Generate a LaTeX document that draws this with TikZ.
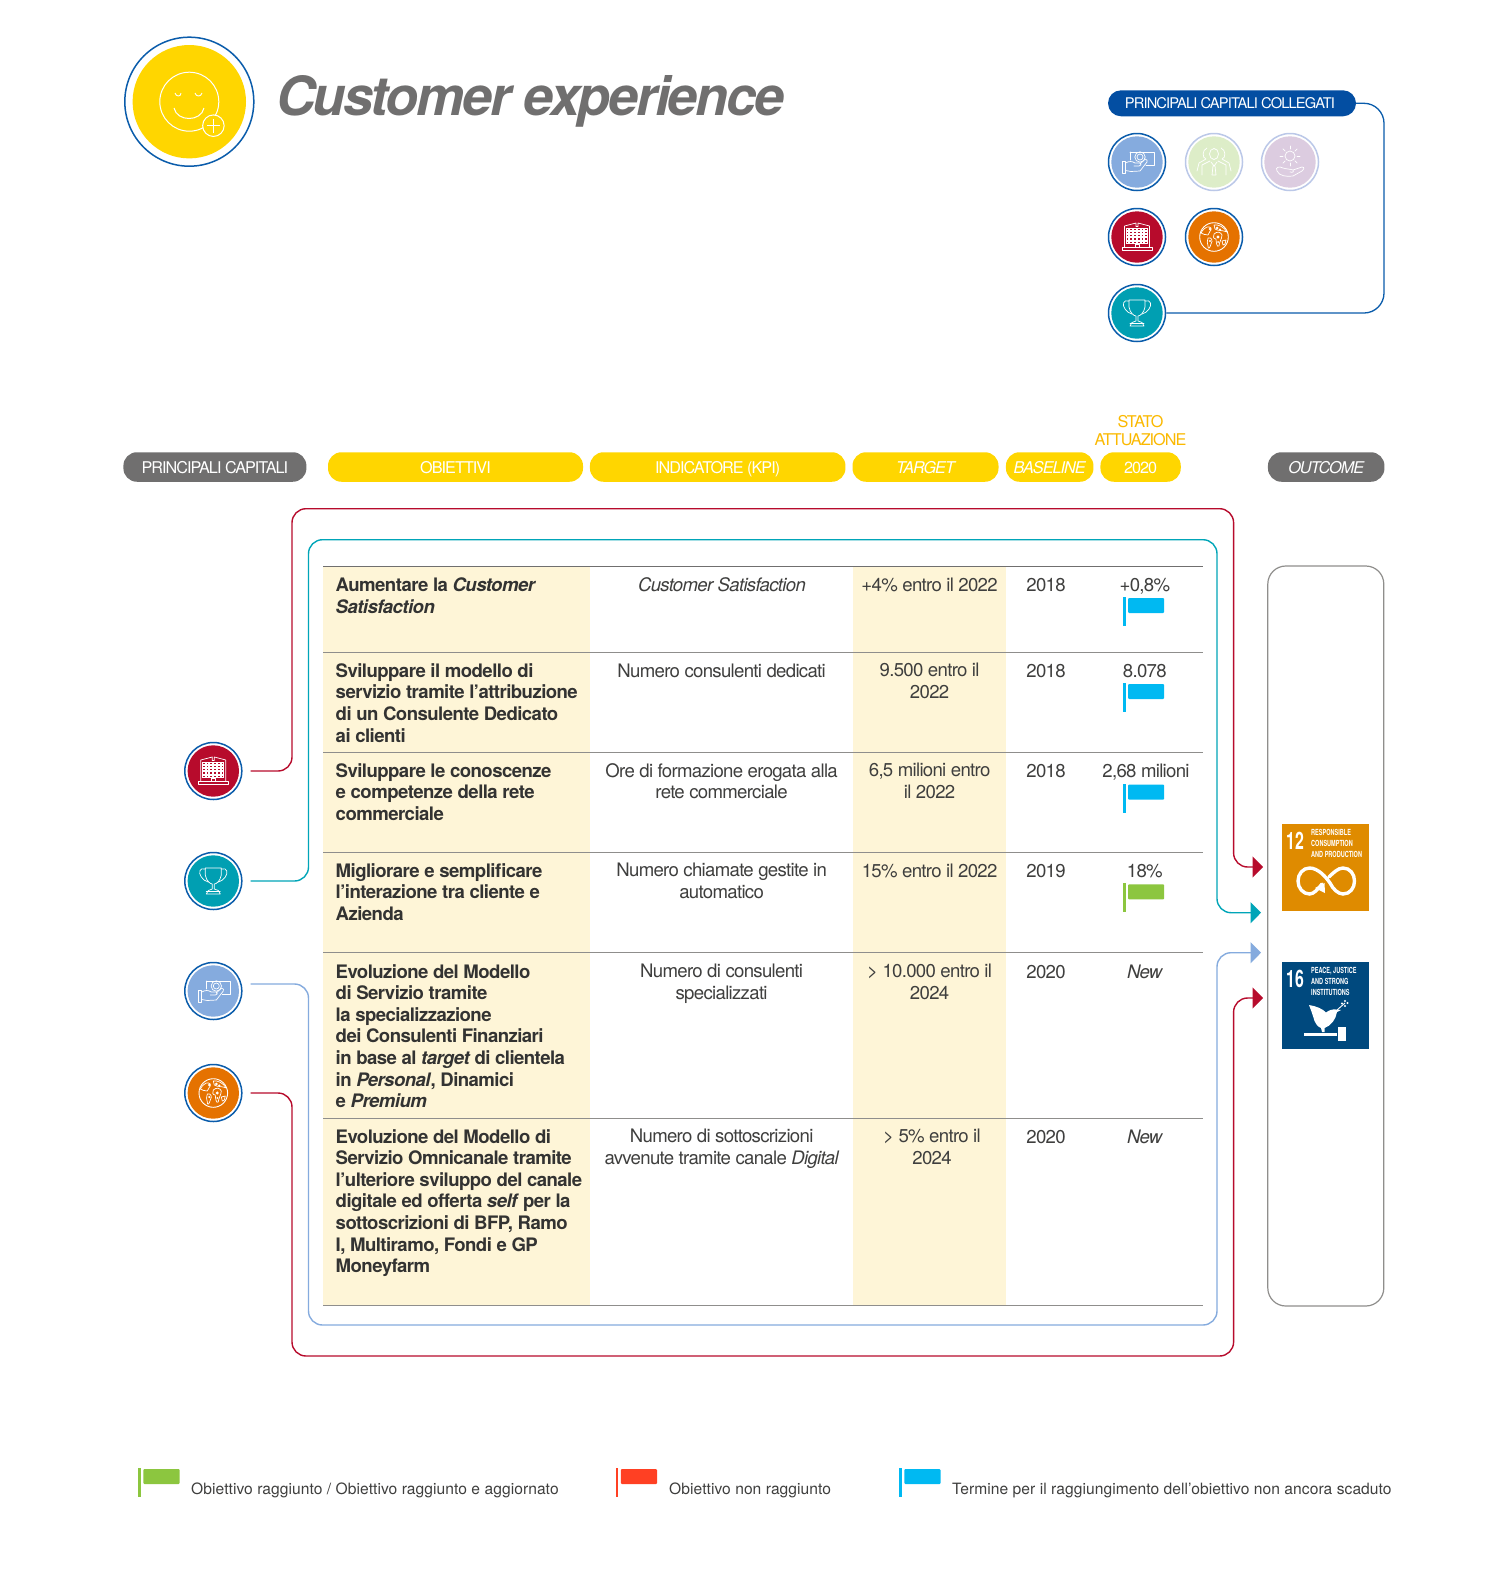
\documentclass[tikz,border=0pt]{standalone}
\usepackage{fontspec}
\usetikzlibrary{arrows.meta,calc}
\setmainfont[LetterSpace=-3.7,BoldFeatures={LetterSpace=-3},BoldItalicFeatures={LetterSpace=-3}]{TeX Gyre Heros}
\newfontfamily\legendf[LetterSpace=0.4]{TeX Gyre Heros}
\newfontfamily\titlef[LetterSpace=-4.2]{TeX Gyre Heros}
\newfontfamily\pillf[LetterSpace=-6]{TeX Gyre Heros}
\newfontfamily\sdgf[FakeStretch=0.66]{TeX Gyre Heros}
\definecolor{cyel}{HTML}{FFD600}
\definecolor{cgrey}{HTML}{706F6F}
\definecolor{ccream}{HTML}{FEF5D7}
\definecolor{cred}{HTML}{B70B2C}
\definecolor{cteal}{HTML}{009FB2}
\definecolor{ctealine}{HTML}{00A5B8}
\definecolor{clblue}{HTML}{85ABDE}
\definecolor{corange}{HTML}{E57200}
\definecolor{cdblue}{HTML}{0A5CAB}
\definecolor{cpill}{HTML}{034EA2}
\definecolor{cfaint}{HTML}{BBC8E8}
\definecolor{cgreenl}{HTML}{DDEDC8}
\definecolor{cpurl}{HTML}{DCCCE0}
\definecolor{ctext}{HTML}{3F3F3E}
\definecolor{cbold}{HTML}{333332}
\definecolor{cstato}{HTML}{FBB900}
\definecolor{fblue}{HTML}{00B9F2}
\definecolor{fgreen}{HTML}{8CC63F}
\definecolor{fred}{HTML}{FF4023}
\definecolor{sdgo}{HTML}{DF8B00}
\definecolor{sdgb}{HTML}{00497E}
\definecolor{crule}{HTML}{8F8E8C}
\tikzset{
  pillbase/.style={rounded corners=13.5pt,minimum height=29.5pt,inner sep=0pt,text=white,text height=13.5pt,text depth=0pt,font=\pillf\fontsize{16.2}{18}\selectfont},
  ypill/.style={pillbase,fill=cyel},
  gpill/.style={pillbase,fill=cgrey},
  objcell/.style={anchor=north west,inner sep=0pt,align=left,text=cbold,font=\fontsize{18.6}{21.6}\selectfont\bfseries,execute at begin node={\rule{0pt}{14pt}}},
  valcell/.style={anchor=north,inner sep=0pt,align=center,text=ctext,font=\fontsize{18.6}{21.6}\selectfont,execute at begin node={\rule{0pt}{14pt}}},
  ringnode/.style={circle,draw=#1,line width=1.5pt,fill=white,minimum size=57pt,inner sep=0pt},
  iconline/.style={draw=white,line width=0.7pt,line join=round,line cap=round},
  conn/.style={line width=1.4pt,rounded corners=14pt},
  arr/.style={-{Triangle[length=10.5pt,width=21pt]}},
  rulel/.style={draw=crule,line width=1pt},
  legtext/.style={anchor=base west,inner sep=0pt,text=ctext,font=\legendf\fontsize{15.6}{18}\selectfont},
  sdgtext/.style={anchor=north west,inner sep=0pt,text=white,align=left,font=\sdgf\fontsize{8.4}{11}\selectfont\bfseries},
  sdgnum/.style={inner sep=0pt,text=white,font=\sdgf\fontsize{24}{24}\selectfont\bfseries},
  moneyicon/.pic={
    \draw[iconline] (-7,-10) -- (17,-10) -- (17,3) -- (9,3) (-7,-10) -- (-7,-2);
    \draw[iconline] (3,-5) circle (5.2) (3,-5) circle (3);
    \draw[iconline] (-15,-1) -- (-11.5,-1) -- (-11.5,11) -- (-15,11) -- cycle;
    \draw[iconline] (-11.5,1) .. controls (-8,-1) and (-5,-1) .. (-2,1) -- (3,1) .. controls (5,2) and (4,4) .. (2,4) -- (-3,4) (3,2) -- (8,-3) .. controls (10,-3) and (11,-1) .. (10,0) -- (3,9) -- (-6,9.5) -- (-11.5,8.5);
  },
  peopleicon/.pic={
    \draw[iconline] (0,-8) ellipse (4.5 and 5.5);
    \draw[iconline] (-4,-1) -- (-12,3) -- (-12,13) (4,-1) -- (12,3) -- (12,13) (-3,0) -- (0,4) -- (3,0) (-2,13) -- (-1,4) (2,13) -- (1,4) (-2,13) -- (2,13);
    \draw[iconline] (-7,-14) .. controls (-12,-12) and (-12,-4) .. (-8,-3) -- (-15,1) -- (-17,9) (7,-14) .. controls (12,-12) and (12,-4) .. (8,-3) -- (15,1) -- (17,9);
  },
  sunicon/.pic={
    \draw[iconline] (0,-6) circle (5);
    \foreach \a in {0,45,...,315} {\draw[iconline] ($(0,-6)+(\a:7)$) -- ($(0,-6)+(\a:10)$);}
    \draw[iconline] (-13,9) .. controls (-15,5) and (-11,4) .. (-7,6) .. controls (-4,7) and (0,7) .. (3,8) .. controls (5,9) and (3,11) .. (0,10) (3,8) -- (12,5) .. controls (15,5) and (14,8) .. (12,9) -- (3,14) .. controls (-3,15) and (-11,14) .. (-13,9);
  },
  buildicon/.pic={
    \draw[iconline] (-15,10) -- (15,10) -- (15,13.5) -- (-15,13.5) -- cycle;
    \draw[iconline] (-12.5,10) -- (-12.5,-11) -- (-1,-14) -- (-1,-10.5) -- (1,-10.5) -- (1,-14) -- (12.5,-11) -- (12.5,10);
    \foreach \x in {-11,-7.3,-3.6,0.1,3.8,7.5} {\foreach \y in {-9,-5.8,-2.6,0.6,3.8} {\draw[draw=white,line width=0.55pt] (\x,\y) rectangle ++(2.7,2.3);}}
    \draw[iconline] (-2,10) -- (-2,7) -- (2,7) -- (2,10);
  },
  globeicon/.pic={
    \draw[iconline,line width=0.9pt] (0,0) circle (14.3);
    \draw[iconline] (-13,-4) .. controls (-9,-11) and (-5,-11) .. (-3,-9) .. controls (-2,-6) and (-6,-5) .. (-6,-2) .. controls (-9,-2) and (-11,-3) .. (-13,-4);
    \draw[iconline] (-6,1) .. controls (-2,0) and (-1,4) .. (-3,7) .. controls (-4,11) and (-6,13) .. (-6,9) .. controls (-6,6) and (-8,4) .. (-6,1);
    \draw[iconline] (0,-3) .. controls (3,-6) and (7,-5) .. (8,-2) .. controls (8,2) and (5,5) .. (5,9) .. controls (3,11) and (2,5) .. (2,2) .. controls (-1,2) and (-1,-1) .. (0,-3);
    \draw[iconline] (0,-12) .. controls (4,-13) and (10,-10) .. (13,-5) .. controls (9,-7) and (3,-6) .. (1,-8) -- cycle;
    \draw[iconline] (8,4) -- (12,3) -- (11,7) -- (9,8) -- cycle;
    \fill[white] (-4,-8) circle (1.4) (3,-9) circle (1.5) (6,-7.5) circle (1.2) (4,0) circle (1.6) (4,5) circle (1) (-4,4) circle (1.2);
  },
  cupicon/.pic={
    \draw[iconline] (-8,-13) -- (8,-13) -- (8,-6) .. controls (7,0) and (3,3) .. (1,3) -- (1,8) -- (5,9.5) -- (7,13) -- (-7,13) -- (-5,9.5) -- (-1,8) -- (-1,3) .. controls (-3,3) and (-7,0) .. (-8,-6) -- cycle;
    \draw[iconline] (-8,-12) .. controls (-14,-14) and (-15,-8) .. (-12,-4) .. controls (-10,-1) and (-8,0) .. (-5,1);
    \draw[iconline] (8,-12) .. controls (14,-14) and (15,-8) .. (12,-4) .. controls (10,-1) and (8,0) .. (5,1);
    \draw[iconline] (-7,10) -- (7,10);
  },
}
\newcommand{\CapNode}[6]{% name, x, y, ring, fill, icon
  \node[ringnode=#4] (#1) at (#2,#3) {};
  \fill[#5] (#1.center) circle (25.7);
  \pic at (#1.center) {#6};
}
\newcommand{\FlagMark}[4]{% name, x, y, colour
  \coordinate (#1) at (#2,#3);
  \fill[#4] ($(#1)+(-1.3,0)$) rectangle ($(#1)+(1.3,29)$);
  \fill[#4,rounded corners=1pt] ($(#1)+(3.8,1)$) rectangle ($(#1)+(40,16)$);
}
\begin{document}
\begin{tikzpicture}[x=1pt,y=-1pt]
\useasboundingbox (0,0) rectangle (1502,1590);
\fill[white] (0,0) rectangle (1502,1590);
% main icon
\node[circle,draw=cdblue,line width=1.5pt,fill=white,minimum size=129pt,inner sep=0pt] (mainicon) at (189.3,101.7) {};
\fill[cyel] (mainicon.center) circle (56.7);
\draw[white,line width=1pt] (mainicon.center) circle (29.5);
\draw[white,line width=1pt] (174,108) .. controls (177,122) and (201,122) .. (204,108);
\draw[white,line width=0.9pt] (175,93) .. controls (176,97) and (181,97) .. (181,93) (195,93) .. controls (196,97) and (201,97) .. (202,93);
\node[circle,draw=white,line width=1pt,fill=cyel,minimum size=21.5pt,inner sep=0pt] (plusicon) at (213.4,125.7) {};
\draw[white,line width=0.9pt] (206.5,125.7) -- (220.3,125.7) (213.4,119) -- (213.4,132.5);
\node[anchor=base west,inner sep=0pt,text=cgrey,font=\titlef\fontsize{54}{60}\selectfont\bfseries\itshape] (title) at (276,115) {Customer experience};
% top-right legend
\node[pillbase,fill=cpill,minimum width=248pt,minimum height=26pt,rounded corners=13pt,text height=10.7pt,font=\pillf\fontsize{14.7}{18}\selectfont] (pillcoll) at (1232,103.3) {\hspace*{-4pt}PRINCIPALI CAPITALI COLLEGATI};
\CapNode{topA}{1137}{162}{cdblue}{clblue}{moneyicon}
\CapNode{topB}{1214}{162}{cfaint}{cgreenl}{peopleicon}
\CapNode{topC}{1290}{162}{cfaint}{cpurl}{sunicon}
\CapNode{topD}{1137}{237}{cdblue}{cred}{buildicon}
\CapNode{topE}{1214}{237}{cdblue}{corange}{globeicon}
\CapNode{topF}{1137}{313}{cdblue}{cteal}{cupicon}
\coordinate (topR) at (1384,103.3);
\draw[cdblue,line width=1.3pt,rounded corners=20pt] (pillcoll.east) -- (topR) -- (topR |- topF.east) -- (topF.east);
% header pills
\node[gpill,minimum width=183pt] (hcap) at (214.9,467) {PRINCIPALI CAPITALI};
\node[ypill,minimum width=255pt] (hobj) at (455.5,467) {OBIETTIVI};
\node[ypill,minimum width=255.5pt] (hkpi) at (717.7,467) {INDICATORE (KPI)};
\node[ypill,minimum width=146pt] (htar) at (925.5,467) {\itshape TARGET};
\node[ypill,minimum width=87.5pt] (hbas) at (1049.7,467) {\itshape BASELINE};
\node[ypill,minimum width=80.3pt] (h2020) at (1140.6,467) {2020};
\node[gpill,minimum width=116.5pt] (hout) at (1326.2,467) {\itshape OUTCOME};
\node[anchor=south,inner sep=0pt,align=center,text=cstato,font=\pillf\fontsize{16.2}{18.2}\selectfont] (stato) at (1140.5,446) {STATO\\ATTUAZIONE};
% table fills
\fill[ccream] (323,566) rectangle (590.4,1306);
\fill[ccream] (852.6,566) rectangle (1005.6,1306);
% table rules
\foreach \y in {652.3,752.7,852.3,952.3,1118.3,1305.7} {\draw[rulel] (323,\y) -- (1202.5,\y);}
\draw[draw=cgrey,line width=1pt] (323,566) -- (1202.5,566);
% obj text
\node[objcell] (o1) at (335.5,577.7) {Aumentare la \textit{Customer}\\\textit{Satisfaction}};
\node[objcell] (o2) at (335.5,663.2) {Sviluppare il modello di\\servizio tramite l’attribuzione\\di un Consulente Dedicato\\ai clienti};
\node[objcell] (o3) at (335.5,763) {Sviluppare le conoscenze\\e competenze della rete\\commerciale};
\node[objcell] (o4) at (335.5,863) {Migliorare e semplificare\\l’interazione tra cliente e\\Azienda};
\node[objcell] (o5) at (335.5,964) {Evoluzione del Modello\\di Servizio tramite\\la specializzazione\\dei Consulenti Finanziari\\in base al \textit{target} di clientela\\in \textit{Personal}, Dinamici\\e \textit{Premium}};
\node[objcell] (o6) at (335.5,1129) {Evoluzione del Modello di\\Servizio Omnicanale tramite\\l’ulteriore sviluppo del canale\\digitale ed offerta \textit{self} per la\\sottoscrizioni di BFP, Ramo\\I, Multiramo, Fondi e GP\\Moneyfarm};
% KPI
\node[valcell] (k1) at (721.6,577.7) {\textit{Customer Satisfaction}};
\node[valcell] (k2) at (721.6,663.2) {Numero consulenti dedicati};
\node[valcell] (k3) at (721.6,763) {Ore di formazione erogata alla\\rete commerciale};
\node[valcell] (k4) at (721.6,863) {Numero chiamate gestite in\\automatico};
\node[valcell] (k5) at (721.6,964) {Numero di consulenti\\specializzati};
\node[valcell] (k6) at (721.6,1129) {Numero di sottoscrizioni\\avvenute tramite canale \textit{Digital}};
% target
\node[valcell] (t1) at (929.6,577.7) {+4\% entro il 2022};
\node[valcell] (t2) at (929.6,663.2) {9.500 entro il\\2022};
\node[valcell] (t3) at (929.6,763) {6,5 milioni entro\\il 2022};
\node[valcell] (t4) at (929.6,863) {15\% entro il 2022};
\node[valcell] (t5) at (929.6,964) {> 10.000 entro il\\2024};
\node[valcell] (t6) at (932,1129) {> 5\% entro il\\2024};
% baseline
\node[valcell] (b1) at (1046,577.7) {2018};
\node[valcell] (b2) at (1046,663.2) {2018};
\node[valcell] (b3) at (1046,763) {2018};
\node[valcell] (b4) at (1046,863) {2019};
\node[valcell] (b5) at (1046,964) {2020};
\node[valcell] (b6) at (1046,1129) {2020};
% status
\node[valcell] (s1) at (1144.8,577.7) {+0,8\%};
\node[valcell] (s2) at (1144.8,663.2) {8.078};
\node[valcell] (s3) at (1146,763) {2,68 milioni};
\node[valcell] (s4) at (1144.8,863) {18\%};
\node[valcell] (s5) at (1144.8,964) {\textit{New}};
\node[valcell] (s6) at (1144.8,1129) {\textit{New}};
\FlagMark{f1}{1124.2}{597}{fblue}
\FlagMark{f2}{1124.2}{683}{fblue}
\FlagMark{f3}{1124.2}{783.7}{fblue}
\FlagMark{f4}{1124.2}{883.3}{fgreen}
% outcome
\node[draw=crule,line width=1.2pt,rounded corners=18pt,minimum width=116pt,minimum height=740pt,inner sep=0pt] (outbox) at (1325.8,936) {};
\node[fill=sdgo,minimum size=87pt,inner sep=0pt] (sdgA) at (1325.7,867.2) {};
\node[fill=sdgb,minimum size=87pt,inner sep=0pt] (sdgB) at (1325.7,1005.5) {};
\node[sdgnum] (n12) at (1295,840.5) {12};
\node[sdgtext] (t12) at (1311,829.5) {RESPONSIBLE\\CONSUMPTION\\AND PRODUCTION};
\draw[white,line width=3.4pt,line cap=round] (1322,884) .. controls (1318,889) and (1314,894) .. (1309.5,894) .. controls (1303,894) and (1298,888) .. (1298,881) .. controls (1298,874) and (1303,868) .. (1309.5,868) .. controls (1318,868) and (1326,877) .. (1330,883) .. controls (1333,889) and (1338,894) .. (1343,894) .. controls (1350,894) and (1354.5,888) .. (1354.5,881) .. controls (1354.5,874) and (1350,868) .. (1343,868) .. controls (1338,868) and (1333,873) .. (1329,877);
\fill[white] (1315,888) -- (1324.5,883) -- (1325,893) -- cycle;
\node[sdgnum] (n16) at (1295,978.5) {16};
\node[sdgtext] (t16) at (1311,967.5) {PEACE, JUSTICE\\AND STRONG\\INSTITUTIONS};
\fill[white] (1309,1005) .. controls (1316,1006) and (1323,1009) .. (1326,1012.5) .. controls (1329,1010) and (1333,1009) .. (1336,1009.5) -- (1341,1010) -- (1337,1012) .. controls (1336,1019) and (1331,1026) .. (1324.5,1028) -- (1324.5,1032) -- (1322,1032) -- (1321,1028) .. controls (1314,1025) and (1314,1018) .. (1312,1013) -- cycle;
\draw[white,line width=0.9pt] (1337,1010) -- (1345,1003);
\fill[white] (1342,1003.5) circle (1.2) (1345,1006) circle (1.2) (1345,1001) circle (1.2) (1347.5,1003) circle (1.2);
\fill[white] (1304,1032.5) rectangle (1337,1035.5);
\fill[white] (1337.5,1027) rectangle (1346,1041);
% left capitals
\CapNode{capD}{213.3}{771}{cdblue}{cred}{buildicon}
\CapNode{capF}{213.3}{881}{cdblue}{cteal}{cupicon}
\CapNode{capA}{213.3}{991}{cdblue}{clblue}{moneyicon}
\CapNode{capE}{213.3}{1093}{cdblue}{corange}{globeicon}
% connector way-points
\coordinate (arRedA) at (1263,867);
\coordinate (arTeal) at (1261,912.7);
\coordinate (arBlue) at (1261,952.7);
\coordinate (arRedB) at (1263,998);
\draw[conn,arr,cred] (capD.east) ++(8,0) -- (292,771) -- (292,508.7) -- (1233.6,508.7) -- (1233.6,867) -- (arRedA);
\draw[conn,arr,ctealine] (capF.east) ++(8,0) -- (308.5,881) -- (308.5,539.7) -- (1217,539.7) -- (1217,912.7) -- (arTeal);
\draw[conn,arr,clblue] (capA.east) ++(8,-7) -- (308.5,984) -- (308.5,1325) -- (1217,1325) -- (1217,952.7) -- (arBlue);
\draw[conn,arr,cred] (capE.east) ++(8,0) -- (292,1093) -- (292,1356) -- (1233.6,1356) -- (1233.6,998) -- (arRedB);
% legend
\FlagMark{lg}{139.6}{1468}{fgreen}
\FlagMark{lr}{617}{1468}{fred}
\FlagMark{lb}{900.5}{1468}{fblue}
\node[legtext] (lgt) at (191,1494) {Obiettivo raggiunto / Obiettivo raggiunto e aggiornato};
\node[legtext] (lrt) at (669,1494) {Obiettivo non raggiunto};
\node[legtext] (lbt) at (952,1494) {Termine per il raggiungimento dell’obiettivo non ancora scaduto};
\end{tikzpicture}
\end{document}
